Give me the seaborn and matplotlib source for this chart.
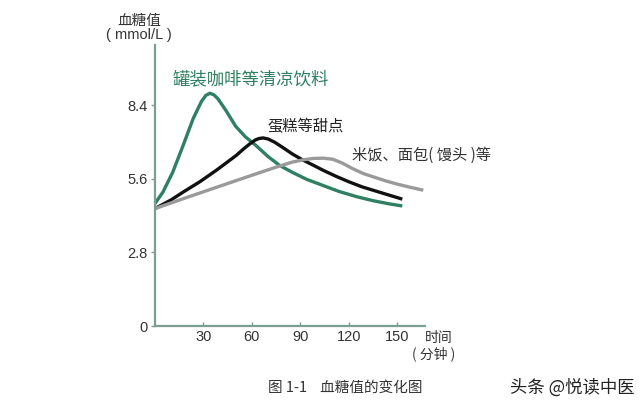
import matplotlib
matplotlib.use("Agg")
import matplotlib.pyplot as plt
import seaborn as sns
import pandas as pd

# Data
green_t = [0, 5, 11, 17.5, 23.7, 28.8, 31.5, 34, 36.5, 39, 44, 50, 56, 62, 70, 77, 85, 94, 104, 114, 125, 135, 145, 153]
green_v = [4.66, 5.1, 5.85, 6.88, 7.9, 8.55, 8.78, 8.86, 8.8, 8.65, 8.2, 7.6, 7.2, 6.9, 6.45, 6.12, 5.85, 5.58, 5.35, 5.12, 4.92, 4.77, 4.65, 4.57]
black_t = [0, 10, 17.5, 28, 38, 45, 50.4, 55, 58.6, 62, 64.5, 67, 70, 74, 79, 85, 91.5, 98, 104, 112, 120, 128, 137, 145, 153]
black_v = [4.47, 4.8, 5.1, 5.5, 5.93, 6.25, 6.5, 6.75, 6.93, 7.08, 7.14, 7.16, 7.12, 7.0, 6.8, 6.55, 6.32, 6.12, 5.93, 5.7, 5.49, 5.3, 5.13, 4.98, 4.83]
gray_t = [0, 20, 40, 60, 75, 85, 92, 98, 104, 110, 116, 122, 129, 136, 143, 150, 158, 166]
gray_v = [4.47, 4.9, 5.32, 5.74, 6.05, 6.24, 6.33, 6.38, 6.39, 6.35, 6.2, 6.0, 5.8, 5.66, 5.52, 5.4, 5.28, 5.17]

series_names = ["罐装咖啡等清凉饮料", "蛋糕等甜点", "米饭、面包( 馒头 )等"]
xticks = [30, 60, 90, 120, 150]
yticks = [0, 2.8, 5.6, 8.4]
ytick_labels = ["0", "2.8", "5.6", "8.4"]

sns.set_theme(style="white")
plt.rcParams['font.family'] = ['Noto Sans CJK SC', 'DejaVu Sans']

GREEN = "#2f7f62"
BLACK = "#111111"
GRAY = "#9a9a9a"
AXC = "#7a9e92"

df = pd.concat([
    pd.DataFrame({"t": green_t, "v": green_v, "s": series_names[0]}),
    pd.DataFrame({"t": black_t, "v": black_v, "s": series_names[1]}),
    pd.DataFrame({"t": gray_t, "v": gray_v, "s": series_names[2]}),
])

fig = plt.figure(figsize=(6.4, 4.05), dpi=100)
ax = fig.add_axes([0.242, 0.195, 0.422, 0.694])
sns.lineplot(data=df, x="t", y="v", hue="s", sort=False, estimator=None,
             palette={series_names[0]: GREEN, series_names[1]: BLACK, series_names[2]: GRAY},
             linewidth=2.4, legend=False, ax=ax)
for ln in ax.get_lines():
    ln.set_solid_joinstyle("round")
    ln.set_solid_capstyle("butt")

ax.set_xlim(0, 167)
ax.set_ylim(0, 10.7)
ax.set_xticks(xticks)
ax.set_xticklabels([str(x) for x in xticks])
ax.set_yticks(yticks)
ax.set_yticklabels(ytick_labels)
ax.set_xlabel("")
ax.set_ylabel("")
for s in ["top", "right"]:
    ax.spines[s].set_visible(False)
for s in ["left", "bottom"]:
    ax.spines[s].set_color(AXC)
    ax.spines[s].set_linewidth(1.6)
ax.tick_params(axis="x", direction="in", length=3, color=AXC, width=1, labelsize=10.5,
               labelcolor="#333333", pad=3, bottom=True)
ax.tick_params(axis="y", direction="out", length=3, color=AXC, width=1, labelsize=10.5,
               labelcolor="#333333", pad=2, left=True)
for lab in ax.get_xticklabels() + ax.get_yticklabels():
    lab.set_family(['Liberation Sans', 'DejaVu Sans'])

# Annotations
fig.text(139/640, 1 - 21/405, "血糖值", ha="center", va="center", fontsize=10.5, color="#333333")
fig.text(139/640, 1 - 35/405, "( mmol/L )", ha="center", va="center", fontsize=10.5, color="#333333",
         family=['Liberation Sans', 'DejaVu Sans'])
fig.text(173/640, 1 - 79/405, series_names[0], ha="left", va="center", fontsize=12.5, color=GREEN)
fig.text(267/640, 1 - 127/405, series_names[1], ha="left", va="center", fontsize=11, color="#222222")
fig.text(352/640, 1 - 155/405, series_names[2], ha="left", va="center", fontsize=11, color="#333333")
fig.text(425/640, 1 - 338/405, "时间", ha="left", va="center", fontsize=10, color="#333333")
fig.text(412/640, 1 - 354/405, "( 分钟 )", ha="left", va="center", fontsize=10, color="#333333")
fig.text(268/640, 1 - 388/405, "图 1-1    血糖值的变化图", ha="left", va="center", fontsize=10.5, color="#333333")
fig.text(510/640, 1 - 388/405, "头条 @悦读中医", ha="left", va="center", fontsize=12.5, color="#222222")

fig.savefig("out.png", dpi=100)
